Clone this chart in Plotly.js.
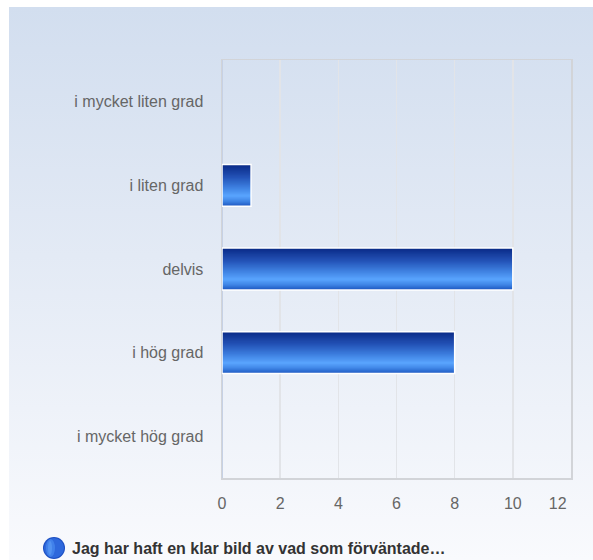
<!DOCTYPE html>
<html>
<head>
<meta charset="utf-8">
<script src="https://cdn.plot.ly/plotly-3.0.1.min.js"></script>
<style>
  html, body { margin: 0; padding: 0; background: #ffffff; }
  #wrap { position: relative; width: 593px; height: 560px; overflow: hidden; background: #ffffff; }
  #bg { position: absolute; left: 9px; top: 7px; width: 584px; height: 553px;
        background: linear-gradient(to bottom, #d2deef 0%, #e3eaf5 45%, #f9fafd 100%); }
  #chart { position: absolute; left: 0; top: 0; width: 593px; height: 560px; }
</style>
</head>
<body>
<div id="wrap"><div id="bg"></div><div id="chart"></div></div>
<script>
// ---- data ----
const categories = ["i mycket liten grad", "i liten grad", "delvis", "i hög grad", "i mycket hög grad"];
const values = [0, 1, 10, 8, 0];
const seriesName = "Jag har haft en klar bild av vad som förväntade…";
const xTicks = [0, 2, 4, 6, 8, 10, 12];
const xTickLabels = ["0", "2", "4", "6", "8", "10", "12"];

// ---- styling helpers ----
const stops = [
  [0.00, [10, 42, 134]],
  [0.30, [35, 82, 182]],
  [0.55, [62, 128, 224]],
  [0.75, [90, 165, 255]],
  [0.88, [62, 132, 228]],
  [1.00, [28, 86, 192]]
];
function colorAt(t) {
  for (let i = 0; i < stops.length - 1; i++) {
    const [t0, c0] = stops[i], [t1, c1] = stops[i + 1];
    if (t >= t0 && t <= t1) {
      const f = (t - t0) / (t1 - t0);
      const c = c0.map((v, k) => Math.round(v + (c1[k] - v) * f));
      return `rgb(${c[0]},${c[1]},${c[2]})`;
    }
  }
  const c = stops[stops.length - 1][1];
  return `rgb(${c[0]},${c[1]},${c[2]})`;
}

const barWidth = 0.5;
const nSlices = 40;
const sliceW = barWidth / nSlices;
const traces = [];
for (let i = 0; i < nSlices; i++) {
  traces.push({
    type: "bar", orientation: "h",
    x: values, y: categories,
    offset: -barWidth / 2 + i * sliceW,
    width: i < nSlices - 1 ? sliceW * 2.2 : sliceW,
    marker: { color: colorAt((i + 0.5) / nSlices), line: { width: 0 } },
    hoverinfo: "skip", showlegend: false
  });
}
// white outline
traces.push({
  type: "bar", orientation: "h",
  x: values.map(v => v || null), y: categories,
  offset: -barWidth / 2, width: barWidth,
  marker: { color: "rgba(0,0,0,0)", line: { color: "#ffffff", width: 1.5 } },
  name: seriesName, showlegend: false,
  hovertemplate: "%{y}: %{x}<extra></extra>"
});

// legend icon position (paper coords relative to plot area)
const L = 222, R = 571, T = 60, B = 478;
const iconX = (54 - L) / (R - L);
const iconY = (B - 548) / (B - T);
const textX = (70 - L) / (R - L);

function circ(x0, x1, y0, y1, fill, op) {
  return { type: "circle", xref: "paper", yref: "paper",
           xsizemode: "pixel", ysizemode: "pixel",
           xanchor: iconX, yanchor: iconY,
           x0: x0, x1: x1, y0: y0, y1: y1,
           fillcolor: fill, opacity: op, line: { width: 0 } };
}

// last tick label nudged left (as in the original, kept inside the frame)
const pad = "\u00a0".repeat(6);
const shownTickText = xTickLabels.map((t, i) => i === xTickLabels.length - 1 ? t + pad : t);

const layout = {
  width: 593, height: 560,
  margin: { l: L, r: 593 - R, t: T, b: 560 - B },
  paper_bgcolor: "rgba(0,0,0,0)",
  plot_bgcolor: "rgba(0,0,0,0)",
  barmode: "overlay",
  font: { family: "Liberation Sans, Arial, sans-serif", size: 16, color: "#666666" },
  xaxis: {
    range: [0, 12], tickvals: xTicks, ticktext: shownTickText,
    showgrid: true, gridcolor: "#e2e4e8", gridwidth: 1.5,
    zeroline: true, zerolinecolor: "#c6d1e5", zerolinewidth: 2,
    showline: true, linecolor: "#d2d4d8", linewidth: 1.5, mirror: true,
    ticks: "", ticklabelstandoff: 10, ticklabeloverflow: "allow",
    tickfont: { size: 16, color: "#666666" }, fixedrange: true
  },
  yaxis: {
    type: "category", categoryorder: "array", categoryarray: categories,
    autorange: "reversed",
    showgrid: false, zeroline: false,
    showline: true, linecolor: "#d2d4d8", linewidth: 1.5, mirror: true,
    ticks: "", ticklabelstandoff: 14,
    tickfont: { size: 16, color: "#666666" }, fixedrange: true
  },
  showlegend: false,
  shapes: [
    circ(-11, 11, -11, 11, "#1c4fc2", 1),
    circ(-10, 10, -10, 10, "#2e68dc", 1),
    circ(-8, 1, -9, 9, "#4a8cf0", 0.7),
    circ(-6, -2, -7, 7, "#6aa8fb", 0.45)
  ],
  annotations: [{
    xref: "paper", yref: "paper", x: textX, y: iconY,
    xanchor: "left", yanchor: "middle", showarrow: false,
    text: seriesName,
    font: { family: "Liberation Sans, Arial, sans-serif", size: 16, color: "#333333", weight: "bold" }
  }]
};

Plotly.newPlot("chart", traces, layout, { displayModeBar: false, staticPlot: true });
</script>
</body>
</html>
